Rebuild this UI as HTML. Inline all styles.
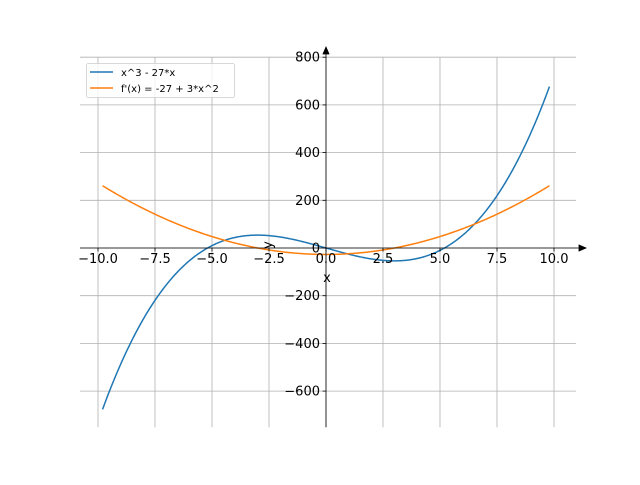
<!DOCTYPE html>
<html><head><meta charset="utf-8"><style>
html,body{margin:0;padding:0;background:#fff;}
svg text{font-family:"DejaVu Sans","Liberation Sans",sans-serif;}
</style></head><body>
<svg id="s" width="640" height="480" viewBox="0 0 640 480" xmlns="http://www.w3.org/2000/svg">
<rect width="640" height="480" fill="#fff"/>
<g id="grid" stroke="#b0b0b0" stroke-width="0.8"></g>
<g id="curves" fill="none" stroke-width="1.5"></g>
<g id="axes" stroke="#000" stroke-width="0.8" fill="#000"></g>
<g id="labels" font-size="13" fill="#000"></g>
<text x="327" y="282" font-size="13" text-anchor="middle">x</text>
<text x="0" y="0" font-size="13" text-anchor="middle" transform="translate(272,245) rotate(-90)">y</text>
<g>
<rect x="86.5" y="63.5" width="148" height="34" fill="#fff" fill-opacity="0.8" stroke="#ccc" stroke-width="0.8" rx="2"/>
<line x1="90" y1="72" x2="113" y2="72" stroke="#1f77b4" stroke-width="1.5"/>
<line x1="90" y1="88" x2="113" y2="88" stroke="#ff7f0e" stroke-width="1.5"/>
<text x="121" y="76" font-size="10">x^3 - 27*x</text>
<text x="121" y="92" font-size="10">f'(x) = -27 + 3*x^2</text>
</g>
</svg>
<script>
var NS="http://www.w3.org/2000/svg";
function X(v){return 326+v*22.8;}
function Y(v){return 248-v*0.2385;}
function el(p,t,a,txt){var e=document.createElementNS(NS,t);for(var k in a)e.setAttribute(k,a[k]);if(txt!=null)e.textContent=txt;document.getElementById(p).appendChild(e);}
for(var i=-4;i<=4;i++){var xv=i*2.5,x=X(xv);
 el("grid","line",{x1:x,y1:57.6,x2:x,y2:427.2});
 el("axes","line",{x1:x,y1:248,x2:x,y2:251.5});
 el("labels","text",{x:x,y:263,"text-anchor":"middle","font-size":"13"},(xv<0?"\u2212":"")+Math.abs(xv).toFixed(1));}
for(var j=-3;j<=4;j++){var yv=j*200,y=Y(yv);
 el("grid","line",{x1:80,y1:y,x2:576,y2:y});
 el("axes","line",{x1:322.5,y1:y,x2:326,y2:y});
 el("labels","text",{x:320,y:y+4.5,"text-anchor":"end","font-size":"13"},(yv<0?"\u2212":"")+Math.abs(yv));}
function curve(f,c){var d="";for(var k=0;k<=400;k++){var xv=-9.8+19.6*k/400;d+=(k?"L":"M")+X(xv).toFixed(2)+","+Y(f(xv)).toFixed(2);}el("curves","path",{d:d,stroke:c});}
curve(function(x){return x*x*x-27*x;},"#1f77b4");
curve(function(x){return 3*x*x-27;},"#ff7f0e");
el("axes","line",{x1:80,y1:248,x2:580,y2:248});
el("axes","path",{d:"M586,248 L579,245 L579,251 Z"});
el("axes","line",{x1:326,y1:427.2,x2:326,y2:53});
el("axes","path",{d:"M326,47 L323,54 L329,54 Z"});
</script>
</body></html>
